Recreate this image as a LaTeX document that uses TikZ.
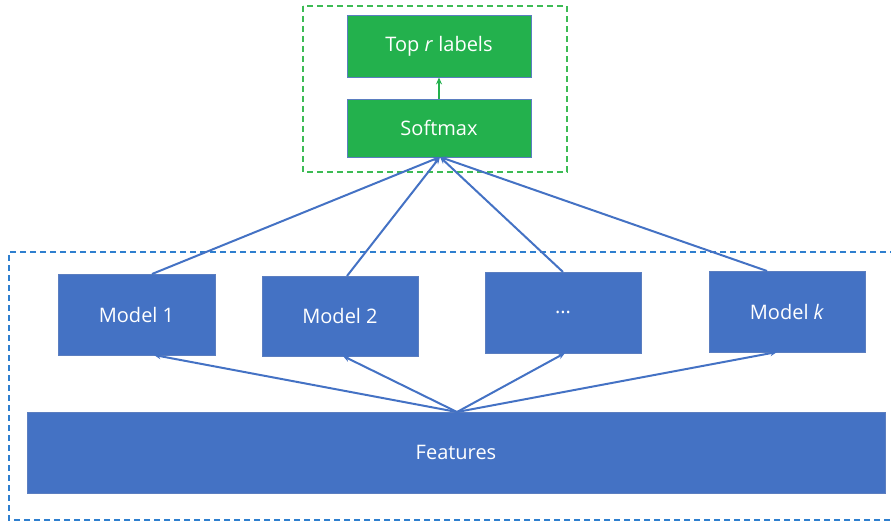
\documentclass[tikz,border=0pt]{standalone}
\usepackage{fontspec}
\setmainfont{Open Sans}
\usetikzlibrary{arrows.meta}
\definecolor{mblue}{HTML}{4472C4}
\definecolor{mbord}{HTML}{5B7EC0}
\definecolor{mgreen}{HTML}{23B14D}
\definecolor{dblue}{HTML}{2E7FCF}
\definecolor{dgreen}{HTML}{3DBB55}
\begin{document}
\begin{tikzpicture}[x=1pt,y=-1pt,
  bluebox/.style={draw=mbord,line width=0.8pt,fill=mblue,text=white,font=\fontsize{20}{24}\selectfont},
  greenbox/.style={draw=mbord,line width=0.8pt,fill=mgreen,text=white,font=\fontsize{20}{24}\selectfont},
  conn/.style={draw=mblue,line width=2pt,-{Stealth[length=7pt,width=6pt]}},
  gconn/.style={draw=mgreen,line width=2pt,-{Stealth[length=7pt,width=6pt]}},
  dashbox/.style={line width=1.5pt,dash pattern=on 6pt off 4pt}]
\useasboundingbox (0,0) rectangle (891,524);
% dashed frames
\draw[dashbox,draw=dgreen] (303,6) rectangle (567,172);
\draw[dashbox,draw=dblue] (896,252) -- (9,252) -- (9,520) -- (896,520);
% boxes
\node[greenbox,minimum width=184pt,minimum height=62pt,inner sep=0pt] (top) at (439,46) {Top \textit{r} labels};
\node[greenbox,minimum width=184pt,minimum height=58pt,inner sep=0pt] (soft) at (439,128) {Softmax};
\node[bluebox,minimum width=157pt,minimum height=81pt,inner sep=0pt] (m1) at (136.5,314.5) {Model 1};
\node[bluebox,minimum width=156pt,minimum height=80pt,inner sep=0pt] (m2) at (340,316) {Model 2};
\node[bluebox,minimum width=156pt,minimum height=81pt,inner sep=0pt] (m3) at (563,312.5) {...};
\node[bluebox,minimum width=156pt,minimum height=81pt,inner sep=0pt] (mk) at (787,311.5) {Model \textit{k}};
\node[bluebox,minimum width=858pt,minimum height=81pt,inner sep=0pt] (feat) at (456,452.5) {Features};
% connectors
\coordinate (fa) at (457,412);
\coordinate (sb) at (440,157);
\draw[gconn] (soft.north) -- (top.south);
\draw[conn] (fa) -- (154,355);
\draw[conn] (fa) -- (343,356);
\draw[conn] (fa) -- (565,353);
\draw[conn] (fa) -- (777,352);
\draw[conn] (152,274) -- (sb);
\draw[conn] (347,276) -- (sb);
\draw[conn] (563,272) -- (sb);
\draw[conn] (767,271) -- (sb);
\end{tikzpicture}
\end{document}
